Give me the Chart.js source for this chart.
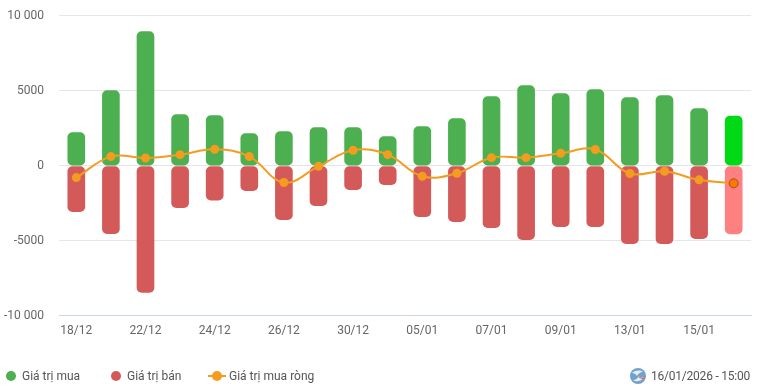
<!DOCTYPE html>
<html lang="vi">
<head>
<meta charset="utf-8">
<title>Giá trị mua bán</title>
<script src="https://cdn.jsdelivr.net/npm/chart.js@4"></script>
<style>
html,body{margin:0;padding:0;background:#fff;overflow:hidden}
#wrap{position:relative;width:757px;height:389px;font-family:Roboto,sans-serif;font-size:12px;color:#555}
canvas{position:absolute;left:0;top:0}
.lg{position:absolute;top:368px;line-height:16px;white-space:nowrap}
.dot{position:absolute;top:371px;width:10px;height:10px;border-radius:50%}
.ln{position:absolute;top:375px;left:208px;width:18px;height:2px;background:#f39c1f}
svg{position:absolute;left:630px;top:368px}
</style>
</head>
<body>
<div id="wrap">
<canvas id="c" width="757" height="389"></canvas>
<span class="dot" style="left:6px;background:#4caf50"></span><span class="lg" style="left:22px">Giá trị mua</span>
<span class="dot" style="left:111px;background:#d45a5a"></span><span class="lg" style="left:127px">Giá trị bán</span>
<span class="ln"></span><span class="dot" style="left:212px;background:#f39c1f"></span><span class="lg" style="left:229px">Giá trị mua ròng</span>
<svg width="16" height="16" viewBox="0 0 16 16"><circle cx="8" cy="8" r="8" fill="#6fa3cf"/><path d="M2 5C6 2 10 2 13 4C10 4 8 6 7 8C6 6 4 5 2 5Z" fill="#e8eef4"/><path d="M14 9C11 14 6 14 3 12C6 12 8 10 9 8C10 10 12 10 14 9Z" fill="#e8eef4"/><path d="M9 9L13 11L15 8" stroke="#d9707a" stroke-width="1.3" fill="none"/></svg>
<span class="lg" style="left:651px;letter-spacing:-0.22px">16/01/2026 - 15:00</span>
</div>
<script>
const categories = ['18/12','19/12','22/12','23/12','24/12','25/12','26/12','29/12','30/12','31/12','05/01','06/01','07/01','08/01','09/01','12/01','13/01','14/01','15/01','16/01'];
const buyValues = [2200,5000,8930,3400,3330,2130,2270,2530,2530,1930,2600,3130,4600,5330,4800,5070,4530,4670,3800,3300];
const sellValues = [-3070,-4530,-8450,-2800,-2300,-1670,-3600,-2670,-1600,-1270,-3400,-3730,-4130,-4930,-4070,-4070,-5200,-5200,-4870,-4550];
const netValues = [-800,600,510,730,1090,600,-1130,-50,1020,730,-710,-510,530,530,820,1070,-530,-380,-950,-1180];
const yTicks = [10000,5000,0,-5000,-10000];

const last = categories.length - 1;
const perPoint = (normal, highlight) => categories.map((_, i) => i === last ? highlight : normal);
const fmt = v => Math.abs(v) >= 10000 ? String(v).replace(/(\d{3})$/, ' $1') : String(v);

new Chart(document.getElementById('c'), {
  data: {
    labels: categories,
    datasets: [
      { type:'line', label:'Giá trị mua ròng', data:netValues, order:0,
        borderColor:'#f39c1f', borderWidth:2, tension:0.4,
        pointRadius:4.5, pointBorderWidth:perPoint(0,1),
        pointBackgroundColor:perPoint('#f39c1f','#ff7700'), pointBorderColor:perPoint('#f39c1f','#8a5a20') },
      { type:'bar', label:'Giá trị mua', data:buyValues, order:1, base:25,
        backgroundColor:perPoint('#4caf50','#00d915'), borderWidth:0,
        borderSkipped:false, borderRadius:5, barThickness:17, grouped:false },
      { type:'bar', label:'Giá trị bán', data:sellValues, order:1, base:-60,
        backgroundColor:perPoint('#d45a5a','#ff8080'), borderWidth:0,
        borderSkipped:false, borderRadius:5, barThickness:17, grouped:false }
    ]
  },
  options: {
    responsive:false, animation:false, devicePixelRatio:1,
    layout:{ padding:{ top:15.6, right:6, left:0, bottom:0 } },
    plugins:{ legend:{display:false}, tooltip:{enabled:false} },
    scales:{
      x:{ offset:true,
        grid:{ display:false, drawTicks:false },
        border:{ color:'#ccd6eb', width:1 },
        afterFit(s){ s.height = 73.4; },
        ticks:{ autoSkip:false, maxRotation:0, minRotation:0, padding:8, color:'#666',
          font:{ family:'Roboto', size:12 },
          callback(v,i){ return i % 2 === 0 ? categories[i] : ''; } } },
      y:{ min:-10000, max:10000,
        afterBuildTicks(s){ s.ticks = yTicks.map(value => ({value})); },
        afterFit(s){ s.width = 59; s.paddingTop = 0; s.paddingBottom = 0; },
        grid:{ color:'#e6e6e6', drawTicks:false },
        border:{ display:false },
        ticks:{ padding:15, color:'#666', font:{ family:'Roboto', size:12 },
          callback:v => fmt(v) } }
    }
  }
});
</script>
</body>
</html>
